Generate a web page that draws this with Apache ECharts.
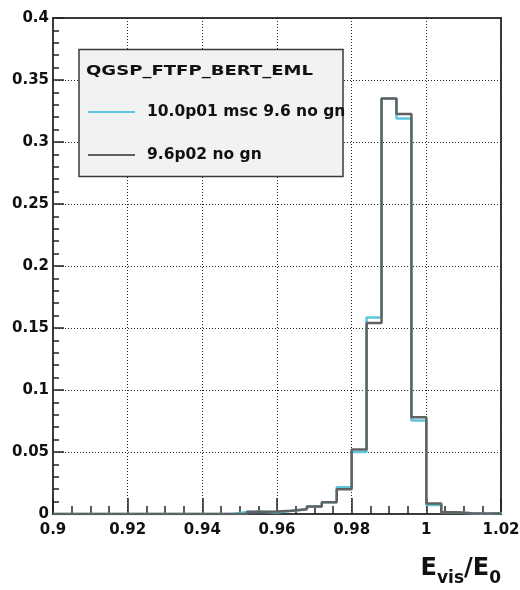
<!DOCTYPE html>
<html>
<head>
<meta charset="utf-8">
<script src="https://cdn.jsdelivr.net/npm/echarts@6/dist/echarts.min.js"></script>
<style>
  html, body { margin: 0; padding: 0; background: #ffffff; }
  #chart { width: 520px; height: 590px; }
</style>
</head>
<body>
<div id="chart"></div>
<script>
// Bin edges of the E_vis/E_0 histogram (30 bins)
const binEdges = [
  0.900, 0.904, 0.908, 0.912, 0.916, 0.920, 0.924, 0.928, 0.932, 0.936,
  0.940, 0.944, 0.948, 0.952, 0.956, 0.960, 0.964, 0.968, 0.972, 0.976,
  0.980, 0.984, 0.988, 0.992, 0.996, 1.000, 1.004, 1.008, 1.012, 1.016,
  1.020
];

// Normalised bin contents, Geant4 10.0.p01 (msc 9.6, no gamma-nuclear)
const contents10p01 = [
  0, 0, 0, 0, 0, 0, 0, 0, 0, 0,
  0, 0, 0.0016, 0.0019, 0.0012, 0.0027, 0.0038, 0.0060, 0.0095, 0.0215,
  0.0500, 0.1585, 0.3350, 0.3190, 0.0755, 0.0073, 0.0015, 0.0006, 0.0000, 0.0009
];

// Normalised bin contents, Geant4 9.6.p02 (no gamma-nuclear)
const contents9p6p02 = [
  0, 0, 0, 0, 0, 0, 0, 0, 0, 0,
  0, 0, 0.0000, 0.0019, 0.0020, 0.0027, 0.0038, 0.0060, 0.0095, 0.0200,
  0.0520, 0.1540, 0.3350, 0.3225, 0.0780, 0.0085, 0.0015, 0.0006, 0.0005, 0.0005
];

const seriesNames = ['10.0p01 msc 9.6 no gn', '9.6p02 no gn'];
const legendHeader = 'QGSP_FTFP_BERT_EML';

const xRange = { min: 0.9, max: 1.02, step: 0.02 };
const yRange = { min: 0, max: 0.4, step: 0.05 };

const FONT = 'DejaVu Sans';
const FRAME = '#3c3c3c';

// Histogram outline: one point per bin low edge, closed at the upper edge
function outline(values) {
  const pts = values.map((v, i) => [binEdges[i], v]);
  const n = values.length;
  pts.push([binEdges[n], values[n - 1]]);
  pts.push([binEdges[n], 0]);
  return pts;
}

const chart = echarts.init(document.getElementById('chart'), null, { renderer: 'canvas' });

const gridDotted = { show: true, lineStyle: { color: '#222', width: 1, type: [1, 2] } };

chart.setOption({
  animation: false,
  backgroundColor: '#ffffff',
  grid: {
    left: 53, right: 19, top: 18, bottom: 76,
    containLabel: false,
    outerBoundsMode: 'none',
    show: true,
    borderColor: FRAME,
    borderWidth: 2,
    backgroundColor: 'transparent'
  },
  xAxis: {
    type: 'value',
    min: xRange.min, max: xRange.max, interval: xRange.step,
    axisLine: { show: true, onZero: false, lineStyle: { color: FRAME, width: 2 } },
    axisTick: { show: true, inside: true, length: 16, lineStyle: { color: '#222', width: 1.5 } },
    minorTick: { show: true, splitNumber: 4, length: 8, lineStyle: { color: '#222', width: 1.5 } },
    splitLine: gridDotted,
    axisLabel: {
      margin: 9, color: '#111',
      fontFamily: FONT, fontWeight: 'bold', fontSize: 15
    },
    name: '{e|E}{s|vis}{e|/E}{s|0}',
    nameLocation: 'end',
    nameGap: 0,
    nameTextStyle: {
      align: 'right', verticalAlign: 'top', padding: [37, 0, 0, 0],
      rich: {
        e: { fontFamily: FONT, fontWeight: 'bold', fontSize: 24, color: '#111' },
        s: { fontFamily: FONT, fontWeight: 'bold', fontSize: 17, color: '#111', padding: [19, 0, 0, 0] }
      }
    }
  },
  yAxis: {
    type: 'value',
    min: yRange.min, max: yRange.max, interval: yRange.step,
    axisLine: { show: true, onZero: false, lineStyle: { color: FRAME, width: 2 } },
    axisTick: { show: true, inside: true, length: 11, lineStyle: { color: '#222', width: 1.5 } },
    minorTick: { show: true, splitNumber: 5, length: 6, lineStyle: { color: '#222', width: 1.5 } },
    splitLine: gridDotted,
    axisLabel: {
      margin: 4, color: '#111',
      fontFamily: FONT, fontWeight: 'bold', fontSize: 15
    }
  },
  legend: {
    show: true,
    orient: 'vertical',
    left: 88, top: 103,
    itemWidth: 47, itemHeight: 2,
    itemGap: 25,
    icon: 'rect',
    padding: 0,
    selectedMode: false,
    z: 6,
    data: seriesNames,
    textStyle: {
      fontFamily: FONT, fontWeight: 'bold', fontSize: 15.5, color: '#111',
      lineHeight: 18, padding: [0, 0, 0, 7]
    }
  },
  graphic: [
    {
      type: 'rect', x: 79, y: 49.5, z: 5,
      shape: { x: 0, y: 0, width: 264, height: 127 },
      style: { fill: '#f1f2f2', stroke: '#3a3a3a', lineWidth: 1.5 }
    },
    {
      type: 'text', x: 86, y: 71, z: 6, scaleX: 1.29,
      style: {
        text: legendHeader, x: 0, y: 0,
        fontFamily: FONT, fontWeight: 'bold', fontSize: 14,
        fill: '#111', verticalAlign: 'middle', align: 'left'
      }
    }
  ],
  series: [
    {
      name: seriesNames[0],
      type: 'line',
      step: 'end',
      data: outline(contents10p01),
      showSymbol: false,
      symbol: 'none',
      color: '#5cc6dc',
      lineStyle: { color: '#5cc6dc', width: 2.5 },
      z: 2
    },
    {
      name: seriesNames[1],
      type: 'line',
      step: 'end',
      data: outline(contents9p6p02),
      showSymbol: false,
      symbol: 'none',
      color: '#616161',
      lineStyle: { color: '#616161', width: 2.5 },
      z: 3
    }
  ]
});
</script>
</body>
</html>
